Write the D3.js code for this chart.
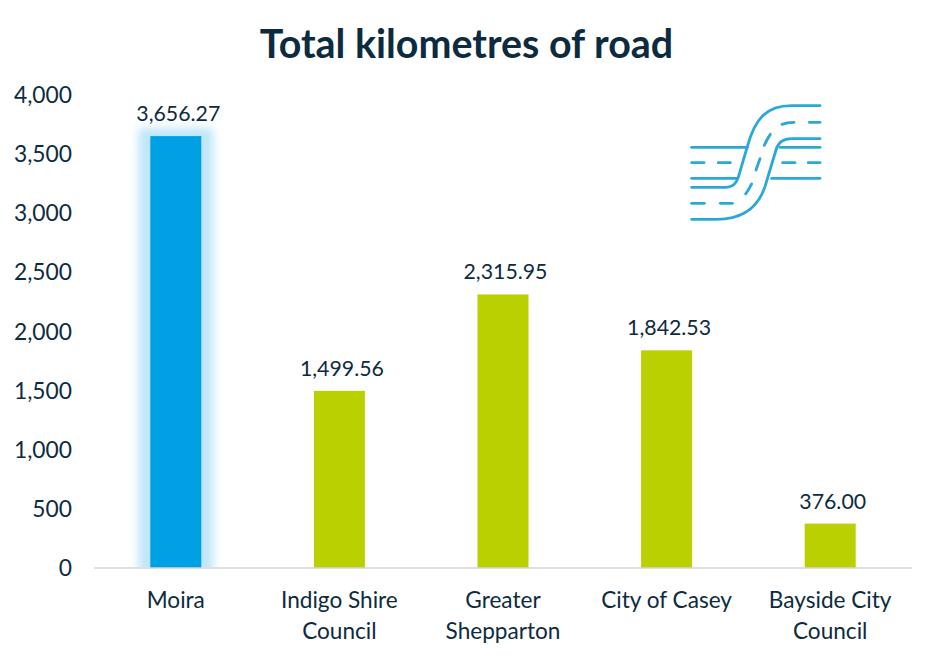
<!DOCTYPE html>
<html>
<head>
<meta charset="utf-8">
<script src="https://cdn.jsdelivr.net/npm/d3@7"></script>
<style>
  html, body { margin: 0; padding: 0; background: #fff; }
  text { font-family: Lato, "Open Sans", sans-serif; fill: #0d2b40; }
</style>
</head>
<body>
<div id="chart"></div>
<script>
// chart data
var categories = ['Moira', 'Indigo Shire Council', 'Greater Shepparton', 'City of Casey', 'Bayside City Council'];
var categoryLines = [['Moira'], ['Indigo Shire', 'Council'], ['Greater', 'Shepparton'], ['City of Casey'], ['Bayside City', 'Council']];
var roadKm = [3656.27, 1499.56, 2315.95, 1842.53, 376.00];
var yTicks = [0, 500, 1000, 1500, 2000, 2500, 3000, 3500, 4000];
var titleText = 'Total kilometres of road';

var width = 935;
var height = 659;
var blue = '#00a0e4';
var green = '#bbd000';
var textColor = '#0d2b40';

var svg = d3.select('#chart').append('svg')
    .attr('width', width)
    .attr('height', height);

var xScale = d3.scaleBand().domain(categories).range([94, 912]);
var yScale = d3.scaleLinear().domain([0, 4000]).range([568, 95.5]);
var barWidth = 51;

var defs = svg.append('defs');
defs.append('filter')
    .attr('id', 'glow')
    .attr('x', '-100%').attr('y', '-20%')
    .attr('width', '300%').attr('height', '140%')
    .append('feGaussianBlur')
    .attr('stdDeviation', 4);
defs.append('clipPath')
    .attr('id', 'aboveAxis')
    .append('rect')
    .attr('x', 94).attr('y', 0)
    .attr('width', 818).attr('height', 567);

svg.append('text')
    .attr('x', 466.5)
    .attr('y', 58)
    .attr('text-anchor', 'middle')
    .style('font-size', '39.4px')
    .style('font-weight', 'bold')
    .text(titleText);

// y axis, labels only
var yAxis = d3.axisLeft(yScale)
    .tickValues(yTicks)
    .tickSize(0)
    .tickPadding(22)
    .tickFormat(d3.format(','));
var yG = svg.append('g')
    .attr('transform', 'translate(94,0)')
    .call(yAxis);
yG.select('.domain').remove();
yG.selectAll('text').style('font-size', '22.8px').attr('fill', textColor);

// glow behind the first bar
svg.append('g')
    .attr('clip-path', 'url(#aboveAxis)')
    .append('rect')
    .attr('x', xScale(categories[0]) + xScale.bandwidth() / 2 - barWidth / 2 - 12)
    .attr('y', yScale(roadKm[0]) - 8)
    .attr('width', barWidth + 24)
    .attr('height', yScale(0) - yScale(roadKm[0]) + 20)
    .attr('fill', '#bfe6f9')
    .attr('filter', 'url(#glow)');

svg.selectAll('.bar')
    .data(roadKm)
    .enter()
    .append('rect')
    .attr('class', 'bar')
    .attr('x', function (d, i) { return xScale(categories[i]) + xScale.bandwidth() / 2 - barWidth / 2; })
    .attr('y', function (d) { return yScale(d); })
    .attr('width', barWidth)
    .attr('height', function (d) { return yScale(0) - yScale(d); })
    .attr('fill', function (d, i) { return i === 0 ? blue : green; });

svg.selectAll('.value')
    .data(roadKm)
    .enter()
    .append('text')
    .attr('class', 'value')
    .attr('x', function (d, i) { return xScale(categories[i]) + xScale.bandwidth() / 2 + 2.5; })
    .attr('y', function (d) { return yScale(d) - 15; })
    .attr('text-anchor', 'middle')
    .style('font-size', '21.3px')
    .text(d3.format(',.2f'));

// x axis line and wrapped labels
svg.append('line')
    .attr('x1', 94).attr('x2', 912)
    .attr('y1', 568).attr('y2', 568)
    .attr('stroke', '#d4d4d4')
    .attr('stroke-width', 1.5);

var catLabels = svg.selectAll('.cat')
    .data(categories)
    .enter()
    .append('text')
    .attr('class', 'cat')
    .attr('text-anchor', 'middle')
    .style('font-size', '22.6px');
catLabels.each(function (d, i) {
    var cx = xScale(d) + xScale.bandwidth() / 2;
    d3.select(this).selectAll('tspan')
        .data(categoryLines[i])
        .enter()
        .append('tspan')
        .attr('x', cx)
        .attr('y', function (l, j) { return 608 + j * 31; })
        .text(function (l) { return l; });
});

// road logo, traced in zoomed coordinates
var logoPaths = [
    'M65,172H232', 'M65,265H200', 'M330,172H450', 'M305,265H450',
    'M65,388H140C220,388 265,350 285,290L318,180C325,155 340,146 365,146H450',
    'M65,292H165C190,292 200,280 207,255L232,170C255,85 290,47 365,47H450',
    // dashes
    'M65,218H102', 'M145,218H181', 'M338,218H375', 'M415,218H450',
    'M65,340H103', 'M151,340H187', 'M227,312C235,302 240,292 245,282',
    'M258,240L270,206', 'M283,166C288,154 294,143 301,133',
    'M336,103C346,99 358,97 372,97', 'M418,97H450'
];
var logo = svg.append('g')
    .attr('transform', 'translate(670,90) scale(0.3333)')
    .attr('fill', 'none')
    .attr('stroke', '#2aa8d8')
    .attr('stroke-width', 8.5)
    .attr('stroke-linecap', 'round');
logo.selectAll('path').data(logoPaths).enter().append('path')
    .attr('d', function (d) { return d; });
</script>
</body>
</html>
